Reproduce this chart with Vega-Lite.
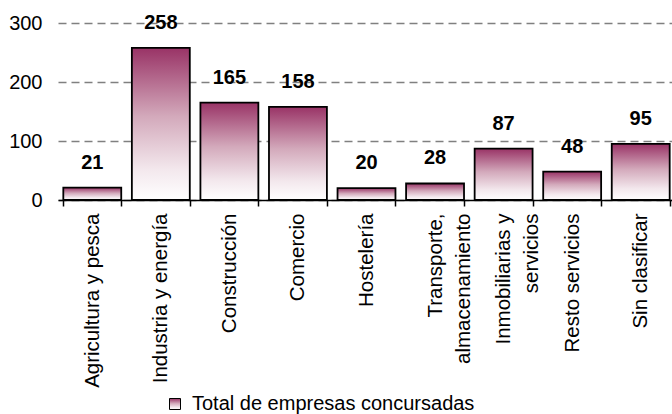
{
  "$schema": "https://vega.github.io/schema/vega-lite/v6.json",
  "width": 617,
  "height": 177,
  "autosize": {"type": "none"},
  "padding": {"left": 58, "top": 23, "right": 0, "bottom": 214},
  "background": "white",
  "config": {"view": {"stroke": null}, "font": "Liberation Sans"},
  "data": {
    "values": [
      {"sector": "Agricultura y pesca", "n": 21},
      {"sector": "Industria y energía", "n": 258},
      {"sector": "Construcción", "n": 165},
      {"sector": "Comercio", "n": 158},
      {"sector": "Hostelería", "n": 20},
      {"sector": "Transporte, almacenamiento", "n": 28},
      {"sector": "Inmobiliarias y servicios", "n": 87},
      {"sector": "Resto servicios", "n": 48},
      {"sector": "Sin clasificar", "n": 95}
    ]
  },
  "encoding": {
    "x": {
      "field": "sector",
      "type": "nominal",
      "sort": null,
      "scale": {"paddingInner": 0.155, "paddingOuter": 0.0775},
      "axis": {
        "title": null,
        "domainColor": "black",
        "domainWidth": 1.5,
        "tickColor": "black",
        "tickWidth": 1.5,
        "tickSize": 6,
        "tickBand": "extent",
        "labelAngle": -90,
        "labelAlign": "right",
        "labelBaseline": "middle",
        "labelPadding": 7,
        "labelFontSize": 20.5,
        "labelColor": "black",
        "labelLimit": 0,
        "labelLineHeight": 28,
        "labelExpr": "datum.value == 'Transporte, almacenamiento' ? ['Transporte,\u00a0\u00a0\u00a0\u00a0', 'almacenamiento'] : datum.value == 'Inmobiliarias y servicios' ? ['Inmobiliarias y', 'servicios\u00a0\u00a0\u00a0\u00a0'] : datum.value"
      }
    },
    "y": {
      "field": "n",
      "type": "quantitative",
      "scale": {"domain": [0, 300], "nice": false},
      "axis": {
        "title": null,
        "domain": false,
        "ticks": false,
        "values": [0, 100, 200, 300],
        "grid": true,
        "gridColor": "#808080",
        "gridWidth": 1.5,
        "gridDash": [8, 5],
        "labelFontSize": 20,
        "labelColor": "black",
        "labelPadding": 16
      }
    }
  },
  "layer": [
    {
      "mark": {
        "type": "bar",
        "strokeWidth": 1.8,
        "fill": {
          "gradient": "linear",
          "x1": 0, "y1": 0, "x2": 0, "y2": 1,
          "stops": [
            {"offset": 0, "color": "#993366"},
            {"offset": 0.45, "color": "#d3a9bb"},
            {"offset": 0.8, "color": "#f3e8ed"},
            {"offset": 1, "color": "#ffffff"}
          ]
        }
      },
      "encoding": {
        "stroke": {
          "datum": "Total de empresas concursadas",
          "scale": {"range": ["black"]},
          "legend": {
            "title": null,
            "orient": "none",
            "legendX": 107,
            "legendY": 371,
            "symbolType": "square",
            "symbolSize": 121,
            "symbolStrokeWidth": 1,
            "symbolStrokeColor": "black",
            "labelFontSize": 20,
            "labelColor": "black",
            "labelOffset": 7,
            "labelLimit": 0,
            "encode": {
              "symbols": {
                "update": {
                  "fill": {
                    "value": {
                      "gradient": "linear",
                      "x1": 0, "y1": 0, "x2": 0, "y2": 1,
                      "stops": [
                        {"offset": 0, "color": "#993366"},
                        {"offset": 1, "color": "#ffffff"}
                      ]
                    }
                  },
                  "fillOpacity": {"value": 1}
                }
              }
            }
          }
        }
      }
    },
    {
      "mark": {
        "type": "text",
        "dy": -25,
        "fontWeight": "bold",
        "fontSize": 20,
        "baseline": "middle",
        "color": "black"
      },
      "encoding": {"text": {"field": "n", "type": "quantitative"}}
    }
  ]
}
